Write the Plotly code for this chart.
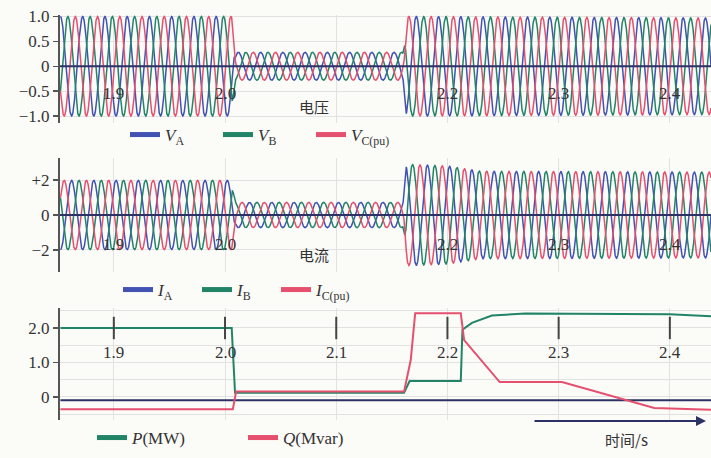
import numpy as np
import plotly.graph_objects as go

# ---------------- data ----------------
T_START, T_END = 1.852, 2.437
FREQ_HZ = 50.0
DT = 0.0002
PHASE_SHIFT_DEG = [0, -120, 120]          # A, B, C
I_PHASE_OFFSET_DEG = 180

# envelope (peak amplitude, pu) of the three-phase voltage
V_ENV_T = [1.852, 2.006, 2.009, 2.160, 2.163, 2.437]
V_ENV_A = [1.00, 1.00, 0.28, 0.28, 1.00, 0.97]
# envelope (peak amplitude, pu) of the three-phase current
I_ENV_T = [1.852, 2.006, 2.009, 2.160, 2.163, 2.200, 2.230, 2.437]
I_ENV_A = [1.98, 1.98, 0.72, 0.72, 2.90, 2.80, 2.50, 2.45]

# active / reactive power
P_T = [1.852, 2.006, 2.009, 2.161, 2.166, 2.212, 2.2135, 2.222, 2.240, 2.270, 2.400, 2.437]
P_V = [2.00, 2.00, 0.12, 0.12, 0.46, 0.46, 1.95, 2.15, 2.36, 2.42, 2.40, 2.34]
Q_T = [1.852, 2.007, 2.010, 2.161, 2.167, 2.171, 2.212, 2.215, 2.247, 2.303, 2.386, 2.437]
Q_V = [-0.36, -0.36, 0.16, 0.16, 1.07, 2.43, 2.43, 1.65, 0.43, 0.43, -0.32, -0.37]
BASE_T = [1.852, 2.437]
BASE_V = [-0.10, -0.10]

X_TICKS = [1.9, 2.0, 2.1, 2.2, 2.3, 2.4]
X_TICK_LABELS = ["1.9", "2.0", "2.1", "2.2", "2.3", "2.4"]
X_LABEL_SHOWN_TOP = [True, True, False, True, True, True]

V_NAMES = ["<i>V</i><sub>A</sub>", "<i>V</i><sub>B</sub>", "<i>V</i><sub>C(pu)</sub>"]
I_NAMES = ["<i>I</i><sub>A</sub>", "<i>I</i><sub>B</sub>", "<i>I</i><sub>C(pu)</sub>"]
PQ_NAMES = ["<i>P</i>(MW)", "<i>Q</i>(Mvar)"]

# ---------------- style ----------------
W, H = 711, 458
BLUE, GREEN, RED = "#4252b2", "#228467", "#e5506f"
NAVY = "#2c3266"
AX = "#555555"
GRID = "#e2e2e2"
TXT = "#333333"
SERIF = '"Liberation Serif", "Times New Roman", serif'
CJK = '"Noto Sans CJK SC", sans-serif'
BG = "#fbfbf8"
COLORS = [BLUE, GREEN, RED]

def py(px):
    return 1 - px / H

t = np.arange(T_START, T_END + DT / 2, DT)
theta = 2 * np.pi * FREQ_HZ * (t - T_START)
v_env = np.interp(t, V_ENV_T, V_ENV_A)
i_env = np.interp(t, I_ENV_T, I_ENV_A)

fig = go.Figure()

for k in range(3):
    ph = np.deg2rad(PHASE_SHIFT_DEG[k])
    fig.add_trace(go.Scatter(x=t, y=v_env * np.cos(theta + ph), mode="lines",
                             line=dict(color=COLORS[k], width=1.5), showlegend=False,
                             xaxis="x", yaxis="y", hoverinfo="skip"))
for k in range(3):
    ph = np.deg2rad(PHASE_SHIFT_DEG[k] + I_PHASE_OFFSET_DEG)
    fig.add_trace(go.Scatter(x=t, y=i_env * np.cos(theta + ph), mode="lines",
                             line=dict(color=COLORS[k], width=1.5), showlegend=False,
                             xaxis="x2", yaxis="y2", hoverinfo="skip"))

fig.add_trace(go.Scatter(x=BASE_T, y=BASE_V, mode="lines", line=dict(color=NAVY, width=2),
                         showlegend=False, xaxis="x3", yaxis="y3", hoverinfo="skip"))
fig.add_trace(go.Scatter(x=P_T, y=P_V, mode="lines", line=dict(color=GREEN, width=2),
                         showlegend=False, xaxis="x3", yaxis="y3", hoverinfo="skip"))
fig.add_trace(go.Scatter(x=Q_T, y=Q_V, mode="lines", line=dict(color=RED, width=2),
                         showlegend=False, xaxis="x3", yaxis="y3", hoverinfo="skip"))
# x tick marks of the power panel (drawn at the 2.0 level)
fig.add_trace(go.Scatter(x=X_TICKS, y=[2.0] * len(X_TICKS), mode="markers",
                         marker=dict(symbol="line-ns", size=16, line=dict(color="#444", width=2)),
                         showlegend=False, xaxis="x3", yaxis="y3", hoverinfo="skip"))

# legend entries
for k in range(3):
    fig.add_trace(go.Scatter(x=[None], y=[None], mode="lines", name=V_NAMES[k],
                             line=dict(color=COLORS[k], width=5), legend="legend",
                             xaxis="x", yaxis="y"))
for k in range(3):
    fig.add_trace(go.Scatter(x=[None], y=[None], mode="lines", name=I_NAMES[k],
                             line=dict(color=COLORS[k], width=5), legend="legend2",
                             xaxis="x2", yaxis="y2"))
for k, c in enumerate([GREEN, RED]):
    fig.add_trace(go.Scatter(x=[None], y=[None], mode="lines", name=PQ_NAMES[k],
                             line=dict(color=c, width=5), legend="legend3",
                             xaxis="x3", yaxis="y3"))

xdom = [60 / W, 1.0]
xcommon = dict(domain=xdom, range=[T_START - 0.0004, T_END], tickvals=X_TICKS,
               showticklabels=False, showgrid=True, gridcolor=GRID, gridwidth=1,
               zeroline=False, showline=False, ticks="", automargin=False)
ycommon = dict(showline=True, linecolor=AX, linewidth=2, ticks="outside", ticklen=5,
               tickcolor=AX, tickwidth=1.5, showgrid=True, gridcolor=GRID, gridwidth=1,
               zeroline=False, automargin=False,
               tickfont=dict(family=SERIF, size=17, color=TXT))

fig.update_layout(
    width=W, height=H, autosize=False, margin=dict(l=0, r=0, t=0, b=0, pad=0),
    paper_bgcolor=BG, plot_bgcolor=BG,
    xaxis=dict(**xcommon, anchor="y"),
    xaxis2=dict(**xcommon, anchor="y2"),
    xaxis3=dict(**xcommon, anchor="y3"),
    yaxis=dict(**ycommon, domain=[py(123), py(15)], range=[-1.14, 1.03], anchor="x",
               tickvals=[1, 0.5, 0, -0.5, -1], ticktext=["1.0", "0.5", "0", "\u22120.5", "\u22121.0"]),
    yaxis2=dict(**ycommon, domain=[py(272), py(158)], range=[-3.26, 3.26], anchor="x2",
                tickvals=[2, 0, -2], ticktext=["+2", "0", "\u22122"]),
    yaxis3=dict(**ycommon, domain=[py(420), py(308)], range=[-0.67, 2.58], anchor="x3",
                tickvals=[2, 1, 0], ticktext=["2.0", "1.0", "0"],
                minor=dict(dtick=0.5, tick0=0, showgrid=True, gridcolor=GRID, ticks="")),
    legend=dict(orientation="h", x=125 / W, xanchor="left", y=py(135), yanchor="middle",
                entrywidth=48, entrywidthmode="pixels", bgcolor="rgba(0,0,0,0)",
                font=dict(family=SERIF, size=17, color=TXT), itemclick=False),
    legend2=dict(orientation="h", x=118 / W, xanchor="left", y=py(290), yanchor="middle",
                 entrywidth=34, entrywidthmode="pixels", bgcolor="rgba(0,0,0,0)",
                 font=dict(family=SERIF, size=17, color=TXT), itemclick=False),
    legend3=dict(orientation="h", x=92 / W, xanchor="left", y=py(438), yanchor="middle",
                 entrywidth=106, entrywidthmode="pixels", bgcolor="rgba(0,0,0,0)",
                 font=dict(family=SERIF, size=17, color=TXT), itemclick=False),
    hovermode=False,
)

# zero lines drawn over the waveforms
for yr in ["y", "y2"]:
    fig.add_shape(type="line", xref="x domain", x0=0, x1=1, yref=yr, y0=0, y1=0,
                  line=dict(color=NAVY, width=2), layer="above")

annotations = []
for xv, lab, shown in zip(X_TICKS, X_TICK_LABELS, X_LABEL_SHOWN_TOP):
    if shown:
        annotations.append(dict(x=xv, y=-0.54, xref="x", yref="y", text=lab, showarrow=False,
                                font=dict(family=SERIF, size=17, color=TXT)))
        annotations.append(dict(x=xv, y=-1.66, xref="x2", yref="y2", text=lab, showarrow=False,
                                font=dict(family=SERIF, size=17, color=TXT)))
    annotations.append(dict(x=xv, y=1.28, xref="x3", yref="y3", text=lab, showarrow=False,
                            font=dict(family=SERIF, size=17, color=TXT)))

annotations += [
    dict(x=2.080, y=-0.80, xref="x", yref="y", text="电压", showarrow=False,
         font=dict(family=CJK, size=15, color=TXT)),
    dict(x=2.080, y=-2.25, xref="x2", yref="y2", text="电流", showarrow=False,
         font=dict(family=CJK, size=15, color=TXT)),
    dict(x=650 / W, y=py(427), xref="paper", yref="paper", yanchor="top", text="时间/s",
         showarrow=False, font=dict(family=CJK, size=15, color=TXT)),
    dict(x=706 / W, y=py(421), xref="paper", yref="paper", text="", showarrow=True,
         ax=-173, ay=0, axref="pixel", ayref="pixel", arrowhead=2, arrowsize=1,
         arrowwidth=2, arrowcolor=NAVY, standoff=0),
]
fig.update_layout(annotations=annotations)

fig.write_html("out.html", config={"displayModeBar": False, "staticPlot": True},
               post_script="document.body.style.margin='0px';document.body.style.overflow='hidden';")
